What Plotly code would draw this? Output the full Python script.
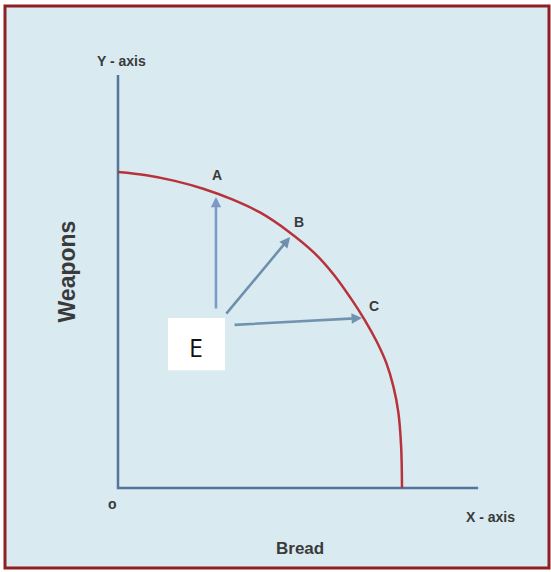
import plotly.graph_objects as go

# Production possibility curve (Bread on x, Weapons on y)
curve_x = [0, 1, 2, 3, 4, 5, 6, 6.9, 7.6, 8.2, 8.7, 9.1, 9.45, 9.7, 9.87, 9.97, 10]
curve_y = [10, 9.9, 9.72, 9.47, 9.14, 8.72, 8.12, 7.45, 6.75, 6.0, 5.3, 4.65, 3.95, 3.2, 2.4, 1.3, 0]

# Points on the curve and arrows from E
point_names = ["A", "B", "C"]
tip_x = [3.45, 6.06, 8.59]
tip_y = [9.21, 7.94, 5.38]
start_x = [3.45, 3.77, 4.05]
start_y = [5.63, 5.47, 5.16]
label_x = [3.49, 6.37, 9.01]
label_y = [9.9, 8.42, 5.76]

# Axis extents
x_axis_end = 12.68
y_axis_end = 13.07

# pixel mapping: x = (px-118)/28.4, y = (488-py)/31.6
XR = [(0 - 118) / 28.4, (551 - 118) / 28.4]
YR = [(488 - 572) / 31.6, (488 - 0) / 31.6]

axis_col = "#55769a"
txt_col = "#3a3a3a"
font_lbl = "Liberation Sans Narrow, Arial Narrow, Liberation Sans, sans-serif"

fig = go.Figure()

# axes lines
fig.add_trace(go.Scatter(x=[0, 0, x_axis_end], y=[y_axis_end, 0, 0], mode="lines",
                         line=dict(color=axis_col, width=2.5), hoverinfo="skip"))
# curve
fig.add_trace(go.Scatter(x=curve_x, y=curve_y, mode="lines", line_shape="spline",
                         line=dict(color="#b8323c", width=2.5, smoothing=1.0), hoverinfo="skip"))

arrow_cols = ["#7d9ac4", "#6f90ad", "#7293b0"]
for i in range(3):
    fig.add_annotation(x=tip_x[i], y=tip_y[i], ax=start_x[i], ay=start_y[i],
                       xref="x", yref="y", axref="x", ayref="y", text="",
                       showarrow=True, arrowhead=2, arrowsize=0.8, arrowwidth=2.6,
                       arrowcolor=arrow_cols[i])
    fig.add_annotation(x=label_x[i], y=label_y[i], xref="x", yref="y", text="<b>%s</b>" % point_names[i],
                       showarrow=False, font=dict(family=font_lbl, size=14, color=txt_col))

# E box
fig.add_shape(type="rect", x0=1.76, x1=3.77, y0=3.73, y1=5.38, xref="x", yref="y",
              fillcolor="white", line=dict(width=0))
fig.add_annotation(x=2.75, y=4.45, xref="x", yref="y", text="E", showarrow=False,
                   font=dict(family="Open Sans, sans-serif", size=25, color="#111111"))

# axis text
fig.add_annotation(x=0.14, y=13.5, xref="x", yref="y", text="<b>Y - axis</b>", showarrow=False,
                   font=dict(family=font_lbl, size=14, color=txt_col))
fig.add_annotation(x=13.1, y=-0.92, xref="x", yref="y", text="<b>X - axis</b>", showarrow=False,
                   font=dict(family=font_lbl, size=14, color=txt_col))
fig.add_annotation(x=-0.21, y=-0.5, xref="x", yref="y", text="<b>o</b>", showarrow=False,
                   font=dict(family=font_lbl, size=14, color=txt_col))
fig.add_annotation(x=6.41, y=-1.93, xref="x", yref="y", text="<b>Bread</b>", showarrow=False,
                   font=dict(family=font_lbl, size=17, color=txt_col))
fig.add_annotation(x=-1.8, y=6.85, xref="x", yref="y", text="<b>Weapons</b>", showarrow=False,
                   textangle=-90, font=dict(family=font_lbl, size=23, color=txt_col))

# frame
fig.add_shape(type="rect", x0=5 / 551, x1=549 / 551, y0=1 - 568 / 572, y1=1 - 6 / 572,
              xref="paper", yref="paper", fillcolor="#d9eaf1",
              line=dict(color="#8e1f22", width=3), layer="below")

fig.update_layout(width=551, height=572, autosize=False,
                  margin=dict(l=0, r=0, t=0, b=0),
                  paper_bgcolor="white", plot_bgcolor="rgba(0,0,0,0)",
                  showlegend=False,
                  xaxis=dict(range=XR, visible=False, fixedrange=True),
                  yaxis=dict(range=YR, visible=False, fixedrange=True))

fig.write_html("out.html", config={"displayModeBar": False},
               post_script="document.body.style.margin='0px';document.body.style.overflow='hidden';")
